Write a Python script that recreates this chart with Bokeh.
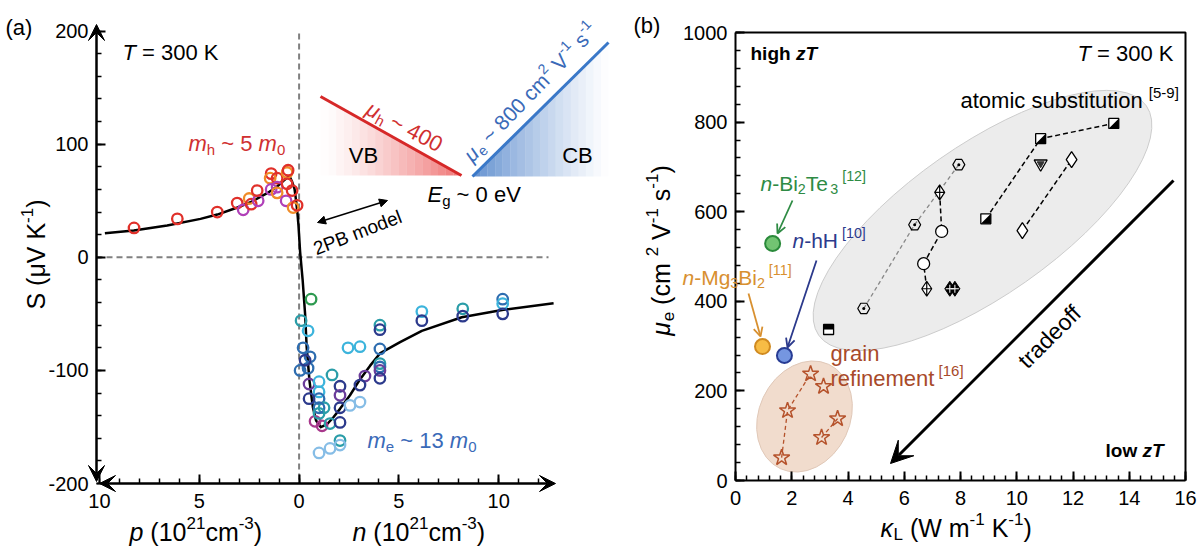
import math
from bokeh.plotting import figure
from bokeh.layouts import row
from bokeh.models import Range1d, FixedTicker, Label, Arrow, VeeHead, NormalHead, OpenHead
from bokeh.embed import file_html
from bokeh.resources import INLINE

FONT = "Liberation Sans"

# ======================= DATA : panel (a) =======================
# signed carrier concentration: negative = p (holes), positive = n (electrons), 1e21 cm^-3
p_x = [-8.27, -6.1, -4.1, -3.1, -2.8, -2.5, -2.4, -2.05, -2.1, -1.4, -1.45, -1.1, -1.4, -1.1, -1.1,
       -0.6, -0.55, -0.6, -0.65, -0.35, -0.3, -0.1]
p_S = [26, 34, 40, 48, 42, 52, 47, 50, 59, 74, 70, 70, 60, 62, 57, 75, 77, 65, 50, 59, 44, 46]
p_col = ["R", "R", "R", "R", "P", "O", "R", "P", "R", "R", "O", "R", "P", "P", "O",
         "O", "R", "R", "P", "R", "O", "R"]

n_x = [0.6, 0.1, 0.45, 0.2, 0.55, 0.05, 0.45, 0.3, 0.5, 1.0, 1.0, 1.0, 0.5, 1.25, 1.0, 0.8, 1.15,
       1.55, 1.0, 1.65, 2.05, 2.05, 2.05, 2.05, 2.05, 2.55, 3.05, 1.0, 1.55, 2.05, 2.45, 3.05, 3.3,
       3.05, 4.05, 4.05, 4.05, 4.05, 4.05, 4.05, 4.05, 6.15, 6.15, 8.2, 8.2, 10.2, 10.2, 10.2]
n_S = [-37, -56, -65, -80, -88, -100, -98, -91, -112, -110, -119, -125, -125, -133, -133, -145, -149,
       -147, -138, -104, -114, -122, -133, -146, -162, -131, -128, -173, -169, -166, -80, -79, -105,
       -113, -60, -64, -81, -94, -97, -100, -107, -48, -56, -45.5, -52, -37, -41, -50]
n_col = ["G", "T", "C", "B", "B", "B", "B", "N", "V", "C", "C", "B", "N", "T", "B", "M", "M",
         "T", "T", "T", "N", "V", "N", "N", "T", "L", "L", "L", "L", "L", "C", "C", "V",
         "N", "T", "N", "B", "T", "B", "V", "N", "C", "N", "T", "N", "B", "C", "N"]

model_x = [-9.73, -8.28, -6.61, -4.94, -4.1, -3.27, -2.43, -1.6, -1.1, -0.77, -0.57, -0.45, -0.36,
           -0.23, -0.15, -0.08, -0.03, 0.05, 0.18, 0.3, 0.38, 0.52, 0.69, 0.85, 1.09, 1.39, 1.72,
           2.05, 2.55, 3.05, 3.55, 4.05, 5.06, 6.15, 8.15, 10.24, 12.75]
model_S = [21.3, 23.7, 28.1, 34.0, 37.8, 42.9, 48.7, 56.7, 62.6, 67.9, 70.8, 70.5, 67.3,
           60.6, 50.2, 38.5, 28, 5, -20.5, -50, -79.5, -109, -132.5, -144.3, -150.2, -147.8, -141.4,
           -134, -122, -108, -96, -85, -75, -65, -53, -46.4, -40.6]

a_xticks = [-10, -5, 0, 5, 10]
a_xlabels = {-10: "10", -5: "5", 0: "0", 5: "5", 10: "10"}
a_yticks = [-200, -100, 0, 100, 200]
a_ylabels = {-200: "-200", -100: "-100", 0: "0", 100: "100", 200: "200"}

# ======================= DATA : panel (b) =======================
circ_kl = [1.32, 1.74, 0.96]          # n-Bi2Te3, n-hH, n-Mg3Bi2
circ_mu = [529, 279, 299]
star_kl = [1.64, 1.85, 2.67, 3.13, 3.63, 3.06]
star_mu = [51, 156, 238, 210, 138, 96]
hex_kl = [4.56, 6.37, 7.94]
hex_mu = [384, 571, 705]
chain_kl = [7.26, 7.33, 6.69, 6.80]
chain_mu = [643, 556, 484, 428]
bdiam_kl = [7.62, 7.80]
bdiam_mu = [428, 428]
hsq_top_kl = [3.31]
hsq_top_mu = [337]
hsq_diag_kl = [8.9, 10.85, 13.45]
hsq_diag_mu = [584, 763, 797]
tri_kl = [10.85]
tri_mu = [707]
odiam_kl = [10.2, 11.95]
odiam_mu = [558, 716]
b_xticks = list(range(0, 17, 2))
b_yticks = list(range(0, 1001, 200))

# ======================= helpers =======================
CW = {' ': 278, '(': 333, ')': 333, '-': 333, '.': 278, ',': 278, '[': 278, ']': 278, '~': 584, '=': 584,
      'a': 556, 'b': 556, 'c': 500, 'd': 556, 'e': 556, 'f': 278, 'g': 556, 'h': 556, 'i': 222, 'j': 222,
      'k': 500, 'l': 222, 'm': 833, 'n': 556, 'o': 556, 'p': 556, 'q': 556, 'r': 333, 's': 500, 't': 278,
      'u': 556, 'v': 500, 'w': 722, 'x': 500, 'y': 500, 'z': 500,
      'A': 667, 'B': 667, 'C': 722, 'D': 722, 'E': 667, 'F': 611, 'G': 778, 'H': 722, 'I': 278, 'K': 667,
      'L': 556, 'M': 833, 'N': 722, 'O': 778, 'P': 667, 'R': 722, 'S': 667, 'T': 611, 'V': 667, 'W': 944,
      'μ': 576, 'κ': 520}
CWB = {'h': 611, 'i': 278, 'g': 611, 'l': 278, 'o': 611, 'w': 778, 'z': 500, 'T': 611, ' ': 278}


def tw(s, size, bold=False):
    tot = 0
    for ch in s:
        if bold and ch in CWB:
            tot += CWB[ch]
        else:
            tot += CW.get(ch, 556)
    return tot * size / 1000.0


def rich(p, x, y, parts, size, color="black", angle=0.0, align="left"):
    """parts: list of (text, mode, style); mode 'n' | 'sup' | 'sub'."""
    items = []
    for text, mode, style in parts:
        s = size if mode == 'n' else size * 0.68
        rise = 0 if mode == 'n' else (size * 0.36 if mode == 'sup' else -size * 0.28)
        bold = 'bold' in style
        w = tw(text, s, bold)
        lead = tw(text[:len(text) - len(text.lstrip(' '))], s, bold)
        items.append((text.strip(' '), s, rise, style, w, lead))
    total = sum(it[4] for it in items)
    off = 0 if align == "left" else (-total / 2 if align == "center" else -total)
    ca, sa = math.cos(angle), math.sin(angle)
    for text, s, rise, style, w, lead in items:
        o = off + lead
        dx = o * ca - rise * sa
        dy = o * sa + rise * ca
        if text:
            p.add_layout(Label(x=x, y=y, x_offset=dx, y_offset=dy, text=text, angle=angle,
                               text_font=FONT, text_font_size=f"{s:.1f}px", text_font_style=style,
                               text_color=color, text_align="left", text_baseline="middle"))
        off += w


def style_axis(ax):
    ax.major_tick_in = 9
    ax.major_tick_out = 0
    ax.minor_tick_in = 5
    ax.minor_tick_out = 0
    ax.major_tick_line_width = 2
    ax.minor_tick_line_width = 1.5
    ax.major_tick_line_color = "black"
    ax.minor_tick_line_color = "black"
    ax.major_label_text_font = FONT
    ax.major_label_text_font_size = "20px"
    ax.major_label_text_color = "black"


TXT = 22      # annotation text size
AXT = 25      # axis title size

# ======================= panel (a) =======================
A_W, A_H = 620, 546
A_SX, A_SY = 19.96, 1.1309            # px per data unit
A_X0, A_Y0 = -10.15, -200             # data values at the axes
A_PX0, A_PY0 = 96, 483                # pixel location of the axes
ax_lo = A_X0 - A_PX0 / A_SX
ax_hi = A_X0 + (A_W - A_PX0) / A_SX
ay_lo = A_Y0 - (A_H - A_PY0) / A_SY
ay_hi = A_Y0 + A_PY0 / A_SY


def LX(px):
    return ax_lo + px / A_SX


def LY(py):
    return ay_hi - py / A_SY


pa = figure(width=A_W, height=A_H, x_range=Range1d(ax_lo, ax_hi), y_range=Range1d(ay_lo, ay_hi),
            output_backend="svg", toolbar_location=None, title=None,
            min_border=0, min_border_left=0, min_border_right=0, min_border_top=0, min_border_bottom=0)
pa.outline_line_color = None
pa.xgrid.visible = False
pa.ygrid.visible = False
for ax in (pa.xaxis[0], pa.yaxis[0]):
    style_axis(ax)
    ax.axis_line_color = None
pa.xaxis[0].fixed_location = A_Y0
pa.yaxis[0].fixed_location = A_X0
pa.xaxis[0].ticker = FixedTicker(ticks=a_xticks, minor_ticks=list(range(-10, 13)))
pa.xaxis[0].major_label_overrides = a_xlabels
pa.xaxis[0].major_label_standoff = 10
pa.yaxis[0].ticker = FixedTicker(ticks=a_yticks, minor_ticks=list(range(-200, 201, 20)))
pa.yaxis[0].major_label_overrides = a_ylabels
pa.yaxis[0].major_label_standoff = 8

# dashed guides
pa.segment(x0=[0], y0=[LY(33)], x1=[0], y1=[A_Y0], line_color="#808080", line_width=2, line_dash="6 4")
pa.segment(x0=[A_X0], y0=[0], x1=[LX(548)], y1=[0], line_color="#808080", line_width=2, line_dash="6 4")

# band diagram (gradient approximated by strips)
rx0, ry0, rx1, ry1 = LX(320), LY(96), LX(461), LY(175)
bx0, by0, bx1, by1 = LX(472), LY(176), LX(608), LY(42)
NS = 18
xs_r, ys_r, al_r, xs_b, ys_b, al_b = [], [], [], [], [], []
for i in range(NS):
    t0, t1 = i / NS, (i + 1) / NS
    xa, xb = rx0 + (rx1 - rx0) * t0, rx0 + (rx1 - rx0) * t1
    ya, yb = ry0 + (ry1 - ry0) * t0, ry0 + (ry1 - ry0) * t1
    xs_r.append([xa, xb, xb, xa])
    ys_r.append([ry1, ry1, yb, ya])
    al_r.append(0.7 * ((t0 + t1) / 2) ** 1.3)
    xa, xb = bx0 + (bx1 - bx0) * t0, bx0 + (bx1 - bx0) * t1
    ya, yb = by0 + (by1 - by0) * t0, by0 + (by1 - by0) * t1
    xs_b.append([xa, xb, xb, xa])
    ys_b.append([by0, by0, yb, ya])
    al_b.append(0.75 * (1 - (t0 + t1) / 2) ** 1.2)
pa.patches(xs_r, ys_r, fill_color="#e83a3a", fill_alpha=al_r, line_color=None)
pa.patches(xs_b, ys_b, fill_color="#2f6cc0", fill_alpha=al_b, line_color=None)
pa.line([rx0, rx1], [ry0, ry1], line_color="#d62828", line_width=3)
pa.line([bx0, bx1], [by0, by1], line_color="#3a78c8", line_width=3)

# model curve
pa.line(model_x, model_S, line_color="black", line_width=2.5, line_join="round")

# data points
cmap_p = {"R": "#e0302a", "O": "#f08c28", "P": "#b040b8"}
cmap_n = {"C": "#3cb4dc", "L": "#86bde6", "T": "#2a9da8", "B": "#2e6db0", "N": "#2c3a8c",
          "V": "#6b3c9a", "M": "#a8388c", "G": "#2e9a50"}
pa.scatter(p_x, p_S, marker="circle", size=10.5, fill_color=None,
           line_color=[cmap_p[c] for c in p_col], line_width=2.3)
pa.scatter(n_x, n_S, marker="circle", size=10.5, fill_color=None,
           line_color=[cmap_n[c] for c in n_col], line_width=2.3)

# axes arrows
pa.add_layout(Arrow(x_start=A_X0, y_start=LY(481), x_end=A_X0, y_end=LY(24), line_width=2.5,
                    line_color="black",
                    start=VeeHead(size=16, fill_color="black", line_color="black"),
                    end=VeeHead(size=16, fill_color="black", line_color="black")))
pa.add_layout(Arrow(x_start=LX(99), y_start=A_Y0, x_end=LX(555), y_end=A_Y0, line_width=2.5,
                    line_color="black",
                    start=VeeHead(size=16, fill_color="black", line_color="black"),
                    end=VeeHead(size=16, fill_color="black", line_color="black")))
# 2PB model arrow
pa.add_layout(Arrow(x_start=LX(317), y_start=LY(222), x_end=LX(387), y_end=LY(200), line_width=1.5,
                    start=NormalHead(size=8, fill_color="black", line_color="black"),
                    end=NormalHead(size=8, fill_color="black", line_color="black")))

# texts (a)
rich(pa, LX(5), LY(27), [("(a)", 'n', 'normal')], TXT)
rich(pa, LX(122), LY(52), [("T", 'n', 'italic'), (" = 300 K", 'n', 'normal')], TXT)
RED, BLUE = "#d03030", "#3a6ab8"
rich(pa, LX(188), LY(143), [("m", 'n', 'italic'), ("h", 'sub', 'normal'), (" ~ 5 ", 'n', 'normal'),
                            ("m", 'n', 'italic'), ("0", 'sub', 'normal')], TXT, RED)
rich(pa, LX(367), LY(440), [("m", 'n', 'italic'), ("e", 'sub', 'normal'), (" ~ 13 ", 'n', 'normal'),
                            ("m", 'n', 'italic'), ("0", 'sub', 'normal')], TXT, BLUE)
rich(pa, LX(357), LY(232), [("2PB model", 'n', 'normal')], 19, angle=math.radians(21), align="center")
rich(pa, LX(427), LY(194), [("E", 'n', 'italic'), ("g", 'sub', 'normal'), (" ~ 0 eV", 'n', 'normal')], TXT)
rich(pa, LX(404), LY(126), [("μ", 'n', 'italic'), ("h", 'sub', 'normal'), (" ~ 400", 'n', 'normal')], TXT,
     RED, angle=math.radians(-28), align="center")
rich(pa, LX(530), LY(92), [("μ", 'n', 'italic'), ("e", 'sub', 'normal'), (" ~ 800 cm", 'n', 'normal'),
                           ("2", 'sup', 'normal'), (" V", 'n', 'normal'), ("-1", 'sup', 'normal'),
                           (" s", 'n', 'normal'), ("-1", 'sup', 'normal')], 21, BLUE,
     angle=math.radians(46), align="center")
rich(pa, LX(363), LY(155), [("VB", 'n', 'normal')], TXT, align="center")
rich(pa, LX(577), LY(155), [("CB", 'n', 'normal')], TXT, align="center")
rich(pa, LX(35), LY(254), [("S", 'n', 'normal'), (" (μV K", 'n', 'normal'), ("-1", 'sup', 'normal'),
                           (")", 'n', 'normal')], AXT, angle=math.radians(90), align="center")
rich(pa, LX(129), LY(531), [("p", 'n', 'italic'), (" (10", 'n', 'normal'), ("21", 'sup', 'normal'),
                            ("cm", 'n', 'normal'), ("-3", 'sup', 'normal'), (")", 'n', 'normal')], AXT)
rich(pa, LX(352), LY(531), [("n", 'n', 'italic'), (" (10", 'n', 'normal'), ("21", 'sup', 'normal'),
                            ("cm", 'n', 'normal'), ("-3", 'sup', 'normal'), (")", 'n', 'normal')], AXT)

# ======================= panel (b) =======================
B_W, B_H = 581, 546
OFF = 620
B_SX, B_SY = 28.125, 0.448
B_PX0, B_PY0 = 735 - OFF, 480
bx_lo = 0 - B_PX0 / B_SX
bx_hi = 0 + (B_W - B_PX0) / B_SX
by_lo = 0 - (B_H - B_PY0) / B_SY
by_hi = 0 + B_PY0 / B_SY


def RX(px):
    return bx_lo + (px - OFF) / B_SX


def RY(py):
    return by_hi - py / B_SY


pb = figure(width=B_W, height=B_H, x_range=Range1d(bx_lo, bx_hi), y_range=Range1d(by_lo, by_hi),
            output_backend="svg", toolbar_location=None, title=None,
            min_border=0, min_border_left=0, min_border_right=0, min_border_top=0, min_border_bottom=0)
pb.outline_line_color = None
pb.xgrid.visible = False
pb.ygrid.visible = False
for ax in (pb.xaxis[0], pb.yaxis[0]):
    style_axis(ax)
    ax.axis_line_color = "black"
    ax.axis_line_width = 2
pb.xaxis[0].fixed_location = 0
pb.yaxis[0].fixed_location = 0
pb.xaxis[0].bounds = (b_xticks[0], b_xticks[-1])
pb.yaxis[0].bounds = (b_yticks[0], b_yticks[-1])
pb.xaxis[0].ticker = FixedTicker(ticks=b_xticks, minor_ticks=[i * 0.4 for i in range(41)])
pb.xaxis[0].major_label_standoff = 10
pb.yaxis[0].ticker = FixedTicker(ticks=b_yticks, minor_ticks=list(range(0, 1001, 40)))
pb.yaxis[0].major_label_standoff = 8
# top and right frame edges
pb.line([b_xticks[0], b_xticks[-1], b_xticks[-1]], [b_yticks[-1], b_yticks[-1], b_yticks[0]],
        line_color="black", line_width=2)

# group ellipses
pb.ellipse(x=[RX(982)], y=[RY(220)], width=[400], height=[150], angle=[math.radians(35)],
           width_units="screen", height_units="screen", fill_color="#ececec", line_color="#cccccc",
           line_width=1)
pb.ellipse(x=[RX(804)], y=[RY(416)], width=[115], height=[91], angle=[math.radians(65)],
           width_units="screen", height_units="screen", fill_color="#f1dccd", line_color="#e0c8b8",
           line_width=1)

# dashed connectors
pb.line(hex_kl, hex_mu, line_color="#888888", line_width=1.3, line_dash="4 3")
pb.line(chain_kl, chain_mu, line_color="black", line_width=1.5, line_dash="5 3")
pb.line(hsq_diag_kl, hsq_diag_mu, line_color="black", line_width=1.5, line_dash="5 3")
pb.line(odiam_kl, odiam_mu, line_color="black", line_width=1.5, line_dash="5 3")
pb.line(star_kl[:3], star_mu[:3], line_color="#b5522b", line_width=1.3, line_dash="4 3")
pb.line([star_kl[5], star_kl[4]], [star_mu[5], star_mu[4]], line_color="#b5522b", line_width=1.3,
        line_dash="4 3")

# markers
pb.scatter(star_kl, star_mu, marker="star", size=17, fill_color=None, line_color="#b5522b", line_width=1.5)
pb.scatter(hex_kl, hex_mu, marker="hex_dot", size=12, fill_color=None, line_color="black", line_width=1.2)
pb.scatter([chain_kl[0], chain_kl[3]], [chain_mu[0], chain_mu[3]], marker="diamond_cross", size=15,
           fill_color="white", line_color="black", line_width=1.2)
pb.scatter(chain_kl[1:3], chain_mu[1:3], marker="circle", size=12, fill_color="white", line_color="black",
           line_width=1.3)
pb.scatter(bdiam_kl, bdiam_mu, marker="diamond", size=15, fill_color="black", line_color="black")
pb.scatter(bdiam_kl, bdiam_mu, marker="cross", size=8, line_color="white", line_width=1)
pb.scatter(odiam_kl, odiam_mu, marker="diamond", size=16, fill_color="white", line_color="black",
           line_width=1.3)
pb.scatter(tri_kl, tri_mu, marker="inverted_triangle", size=13, fill_color="white", line_color="black",
           line_width=1.3)
pb.scatter(tri_kl, tri_mu, marker="inverted_triangle", size=7, fill_color="#333333", line_color="#333333")
HS = 5.0
hx, hy = HS / B_SX, HS / B_SY
pb.scatter(hsq_top_kl + hsq_diag_kl, hsq_top_mu + hsq_diag_mu, marker="square", size=2 * HS,
           fill_color="white", line_color="black", line_width=1.3)
pb.patches([[x - hx, x + hx, x + hx, x - hx] for x in hsq_top_kl],
           [[y, y, y + hy, y + hy] for y in hsq_top_mu], fill_color="black", line_color=None)
pb.patches([[x - hx, x + hx, x + hx] for x in hsq_diag_kl],
           [[y - hy, y - hy, y + hy] for y in hsq_diag_mu], fill_color="black", line_color=None)
pb.scatter(circ_kl, circ_mu, marker="circle", size=15, fill_color=["#72c472", "#7596e0", "#f7bc45"],
           line_color=["#2a8a3a", "#283c94", "#d08a20"], line_width=2)

# arrows (b)
GREEN, NAVY, ORANGE, BROWN = "#2e8b44", "#2c3a8c", "#d89030", "#a84a2a"
pb.add_layout(Arrow(x_start=RX(792), y_start=RY(200), x_end=RX(777), y_end=RY(233), line_color=GREEN,
                    line_width=1.8, end=OpenHead(size=9, line_color=GREEN, line_width=1.8)))
pb.add_layout(Arrow(x_start=RX(816), y_start=RY(260), x_end=RX(787), y_end=RY(347), line_color=NAVY,
                    line_width=1.8, end=OpenHead(size=9, line_color=NAVY, line_width=1.8)))
pb.add_layout(Arrow(x_start=RX(748), y_start=RY(293), x_end=RX(760), y_end=RY(336), line_color=ORANGE,
                    line_width=1.8, end=OpenHead(size=9, line_color=ORANGE, line_width=1.8)))
pb.add_layout(Arrow(x_start=RX(1173), y_start=RY(180), x_end=RX(890), y_end=RY(463), line_color="black",
                    line_width=3, end=VeeHead(size=22, fill_color="black", line_color="black")))

# texts (b)
rich(pb, RX(633), RY(25), [("(b)", 'n', 'normal')], TXT)
rich(pb, RX(750), RY(53), [("high ", 'n', 'bold'), ("zT", 'n', 'bold italic')], 19)
rich(pb, RX(1077), RY(53), [("T", 'n', 'italic'), (" = 300 K", 'n', 'normal')], TXT)
rich(pb, RX(1105), RY(450), [("low ", 'n', 'bold'), ("zT", 'n', 'bold italic')], 19)
rich(pb, RX(960), RY(100), [("atomic substitution ", 'n', 'normal'), ("[5-9]", 'sup', 'normal')], TXT)
rich(pb, RX(760), RY(183), [("n", 'n', 'italic'), ("-Bi", 'n', 'normal'), ("2", 'sub', 'normal'),
                            ("Te", 'n', 'normal'), ("3", 'sub', 'normal'), (" [12]", 'sup', 'normal')], 21, GREEN)
rich(pb, RX(792), RY(240), [("n", 'n', 'italic'), ("-hH", 'n', 'normal'), (" [10]", 'sup', 'normal')], 21, NAVY)
rich(pb, RX(682), RY(277), [("n", 'n', 'italic'), ("-Mg", 'n', 'normal'), ("3", 'sub', 'normal'),
                            ("Bi", 'n', 'normal'), ("2", 'sub', 'normal'), (" [11]", 'sup', 'normal')], 21, ORANGE)
rich(pb, RX(830), RY(353), [("grain", 'n', 'normal')], TXT, BROWN)
rich(pb, RX(830), RY(378), [("refinement", 'n', 'normal'), (" [16]", 'sup', 'normal')], TXT, BROWN)
rich(pb, RX(1049), RY(336), [("tradeoff", 'n', 'normal')], 23, angle=math.radians(45), align="center")
rich(pb, RX(660), RY(250), [("μ", 'n', 'italic'), ("e", 'sub', 'normal'), (" (cm ", 'n', 'normal'),
                            ("2", 'sup', 'normal'), (" V", 'n', 'normal'), ("-1", 'sup', 'normal'),
                            (" s", 'n', 'normal'), ("-1", 'sup', 'normal'), (")", 'n', 'normal')], AXT,
     angle=math.radians(90), align="center")
rich(pb, RX(880), RY(527), [("κ", 'n', 'italic'), ("L", 'sub', 'normal'), (" (W m", 'n', 'normal'),
                            ("-1", 'sup', 'normal'), (" K", 'n', 'normal'), ("-1", 'sup', 'normal'),
                            (")", 'n', 'normal')], AXT)

layout = row(pa, pb, spacing=0)
open("out.html", "w").write(file_html(layout, INLINE))
